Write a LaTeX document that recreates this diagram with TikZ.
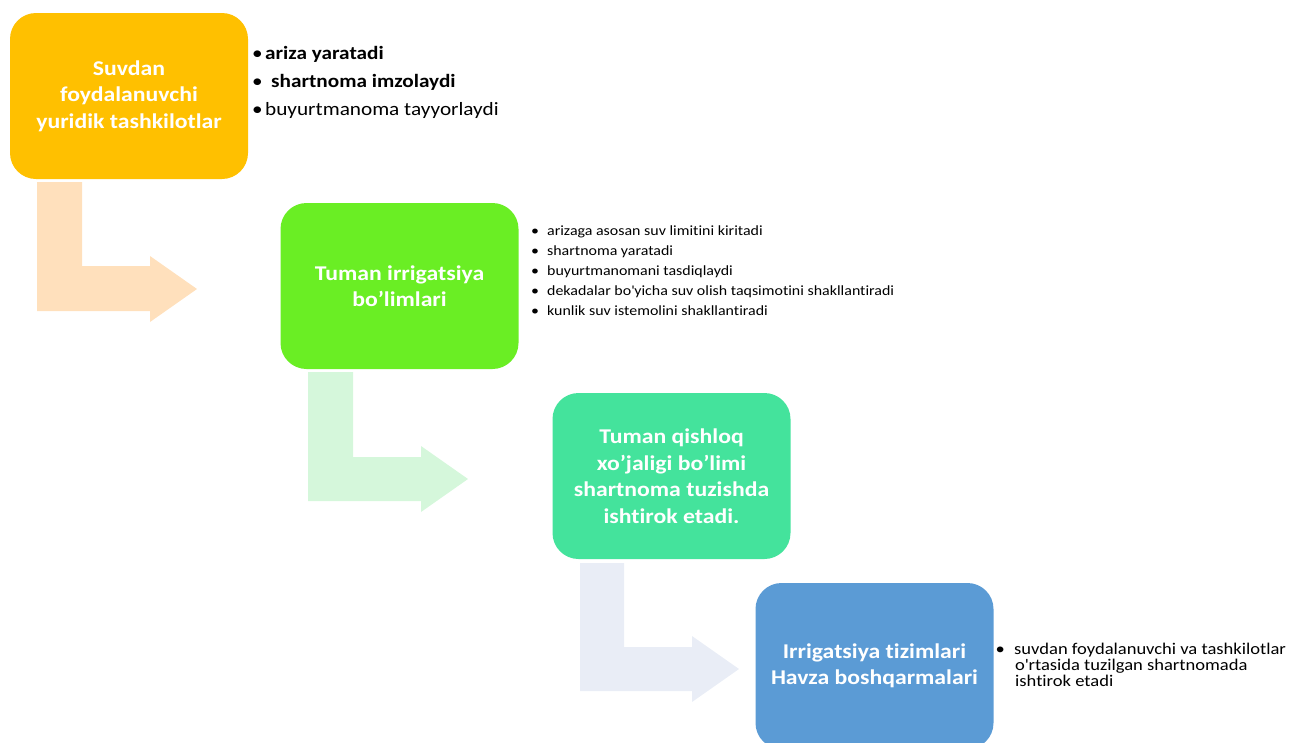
\documentclass[tikz,border=0pt]{standalone}
\usepackage{fontspec}
\setmainfont{Carlito}[FakeStretch=1.13, Ligatures={TeX,NoCommon}]
\definecolor{boxA}{HTML}{FFC000}
\definecolor{boxB}{HTML}{6AEE24}
\definecolor{boxC}{HTML}{44E39C}
\definecolor{boxD}{HTML}{5B9BD5}
\definecolor{arrA}{HTML}{FFE0BC}
\definecolor{arrB}{HTML}{D5F7DB}
\definecolor{arrC}{HTML}{E9EDF6}
\begin{document}
\begin{tikzpicture}[x=1pt,y=-1pt,
  stagebox/.style={rectangle, rounded corners=26pt, minimum width=238pt, minimum height=166pt,
    text=white, align=center, font=\fontsize{21}{26.5}\selectfont\bfseries, inner sep=0pt},
  listtext/.style={anchor=base west, align=left, inner sep=0pt, text=black}]
\useasboundingbox (0,0) rectangle (1290,742);
% bent arrows
\fill[arrA] (37,182) -- (82,182) -- (82,266) -- (150,266) -- (150,256) -- (197,289)
  -- (150,322) -- (150,311) -- (37,311) -- cycle;
\fill[arrB] (308,372) -- (353,372) -- (353,457) -- (421,457) -- (421,446) -- (468,479)
  -- (421,512) -- (421,501) -- (308,501) -- cycle;
\fill[arrC] (580,563) -- (624,563) -- (624,647) -- (692,647) -- (692,636) -- (739,669)
  -- (692,702) -- (692,691) -- (580,691) -- cycle;
% boxes
\node[stagebox, fill=boxA] (s1) at (129,96) {Suvdan\\foydalanuvchi\\yuridik tashkilotlar};
\node[stagebox, fill=boxB] (s2) at (399.5,286) {Tuman irrigatsiya\\bo’limlari};
\node[stagebox, fill=boxC] (s3) at (671.5,476) {Tuman qishloq\\xo’jaligi bo’limi\\shartnoma tuzishda\\ishtirok etadi.};
\node[stagebox, fill=boxD] (s4) at (874.5,666) {Irrigatsiya tizimlari\\Havza boshqarmalari};
% lists
\node[listtext, font=\fontsize{18.8}{28}\selectfont] (l1) at (252,115)
  {\textbullet\hspace{2.4pt}\textbf{ariza yaratadi}\\
   \textbullet\hspace{8.4pt}\textbf{shartnoma imzolaydi}\\
   \textbullet\hspace{2.4pt}buyurtmanoma tayyorlaydi};
\node[listtext, font=\fontsize{14.1}{20}\selectfont] (l2) at (531,315)
  {\textbullet\hspace{8pt}arizaga asosan suv limitini kiritadi\\
   \textbullet\hspace{8pt}shartnoma yaratadi\\
   \textbullet\hspace{8pt}buyurtmanomani tasdiqlaydi\\
   \textbullet\hspace{8pt}dekadalar bo\textquotesingle yicha suv olish taqsimotini shakllantiradi\\
   \textbullet\hspace{8pt}kunlik suv istemolini shakllantiradi};
\node[listtext, font=\fontsize{16.4}{15.7}\selectfont] (l3) at (995.4,686)
  {\textbullet\hspace{9.4pt}suvdan foydalanuvchi va tashkilotlar\\
   \hspace{19.6pt}o\textquotesingle rtasida tuzilgan shartnomada\\
   \hspace{19.6pt}ishtirok etadi};
\end{tikzpicture}
\end{document}
